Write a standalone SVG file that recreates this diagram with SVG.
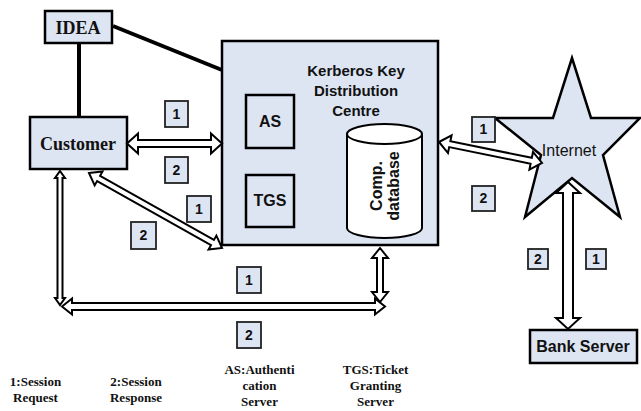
<svg xmlns="http://www.w3.org/2000/svg" width="641" height="411" viewBox="0 0 641 411">
<style>
.box{fill:#dde5f3;stroke:#000;stroke-width:2.5}
.lbl{fill:#dde5f3;stroke:#222;stroke-width:1.8}
.num{font-family:"Liberation Sans",Arial,sans-serif;font-weight:bold;font-size:14px;fill:#111;text-anchor:middle}
.sans{font-family:"Liberation Sans",Arial,sans-serif;font-weight:bold;fill:#111;text-anchor:middle}
.serif{font-family:"Liberation Serif","Times New Roman",serif;font-weight:bold;fill:#111;text-anchor:middle}
.arr{fill:#fff;stroke:#000;stroke-width:2;stroke-linejoin:miter}
.ln{stroke:#000;stroke-width:4;fill:none}
</style>
<rect width="641" height="411" fill="#fff"/>

<g id="kdc">
<rect class="box" x="222" y="41" width="216" height="204"/>
<text class="sans" font-size="15" x="356" y="76">Kerberos Key</text>
<text class="sans" font-size="15" x="356" y="96">Distribution</text>
<text class="sans" font-size="15" x="356" y="116">Centre</text>
</g>
<g id="as">
<rect class="box" x="246" y="95" width="48" height="53" stroke-width="2"/>
<text class="sans" font-size="16" x="270" y="127">AS</text>
</g>
<g id="tgs">
<rect class="box" x="246" y="175" width="48" height="52" stroke-width="2"/>
<text class="sans" font-size="16" x="270" y="206">TGS</text>
</g>
<g id="database">
<path d="M347,134 L347,228 A37.5,10 0 0 0 422,228 L422,134 A37.5,10 0 0 0 347,134 A37.5,10 0 0 0 422,134" fill="#fff" stroke="#000" stroke-width="2"/>
<text class="sans" font-size="16" transform="translate(382,186) rotate(-90)" x="0" y="0">Comp.</text>
<text class="sans" font-size="16" transform="translate(399,186) rotate(-90)" x="0" y="0">database</text>
</g>
<g id="idea">
<rect class="box" x="45" y="11" width="67" height="32" stroke-width="3"/>
<text class="serif" font-size="18" x="78" y="34">IDEA</text>
</g>
<g id="customer">
<rect class="box" x="30" y="117" width="97" height="52" stroke-width="3"/>
<text class="serif" font-size="18" x="78" y="150">Customer</text>
</g>
<g id="internet">
<polygon class="box" stroke-width="2" points="572,58 591,118 640,118 603,155 620,217 572,178 525,217 541,155 495,118 553,118"/>
<text font-family="'Liberation Sans',Arial,sans-serif" font-size="16" fill="#111" text-anchor="middle" x="569" y="156">Internet</text>
</g>
<g id="bank">
<rect class="box" x="530" y="330" width="107" height="33" stroke-width="3"/>
<text class="sans" font-size="16" x="583" y="352">Bank Server</text>
</g>

<g id="connectors">
<line class="ln" x1="79" y1="43" x2="79" y2="117"/>
<line class="ln" x1="113" y1="26" x2="222" y2="70"/>
<polygon class="arr" transform="translate(127,143.5)" points="0,0 11,-10 11,-3.5 84,-3.5 84,-10 95,0 84,10 84,3.5 11,3.5 11,10"/>
<polygon class="arr" transform="translate(89,173) rotate(29.4)" points="0,0 11,-8 11,-3 141.7,-3 141.7,-8 152.7,0 141.7,8 141.7,3 11,3 11,8"/>
<polygon class="arr" transform="translate(60,171) rotate(90)" points="0,0 7,-5 7,-2.5 127,-2.5 127,-5 134,0 127,5 127,2.5 7,2.5 7,5"/>
<polygon class="arr" transform="translate(62,306.5)" points="0,0 10,-8 10,-3.5 313,-3.5 313,-8 323,0 313,8 313,3.5 10,3.5 10,8"/>
<polygon class="arr" transform="translate(380,248) rotate(90)" points="0,0 10,-8 10,-3 44,-3 44,-8 54,0 44,8 44,3 10,3 10,8"/>
<polygon class="arr" transform="translate(439,142) rotate(11.5)" points="0,0 11,-9 11,-3 94.1,-3 94.1,-9 105.1,0 94.1,9 94.1,3 11,3 11,9"/>
<polygon class="arr" transform="translate(568,182) rotate(90)" points="0,0 11,-12 11,-5 136,-5 136,-12 147,0 136,12 136,5 11,5 11,12"/>
</g>

<g id="labels">
<rect class="lbl" x="165" y="101" width="23" height="26"/><text class="num" x="176.5" y="119">1</text>
<rect class="lbl" x="165" y="157" width="23" height="26"/><text class="num" x="176.5" y="175">2</text>
<rect class="lbl" x="187" y="196" width="24" height="26"/><text class="num" x="199" y="214">1</text>
<rect class="lbl" x="131" y="222" width="25" height="27"/><text class="num" x="143.5" y="240">2</text>
<rect class="lbl" x="237" y="267" width="24" height="26"/><text class="num" x="249" y="285">1</text>
<rect class="lbl" x="237" y="322" width="24" height="26"/><text class="num" x="249" y="340">2</text>
<rect class="lbl" x="472" y="117" width="23" height="25"/><text class="num" x="483.5" y="134">1</text>
<rect class="lbl" x="472" y="186" width="23" height="25"/><text class="num" x="483.5" y="203">2</text>
<rect class="lbl" x="528" y="249" width="20" height="20"/><text class="num" x="538" y="264">2</text>
<rect class="lbl" x="586" y="249" width="20" height="20"/><text class="num" x="596" y="264">1</text>
</g>

<g id="legend">
<text class="serif" font-size="13" x="35.5" y="386">1:Session</text>
<text class="serif" font-size="13" x="35.5" y="402">Request</text>
<text class="serif" font-size="13" x="136" y="386">2:Session</text>
<text class="serif" font-size="13" x="136" y="402">Response</text>
<text class="serif" font-size="13" x="259.5" y="374">AS:Authenti</text>
<text class="serif" font-size="13" x="259.5" y="390">cation</text>
<text class="serif" font-size="13" x="259.5" y="406">Server</text>
<text class="serif" font-size="13" x="375.5" y="374">TGS:Ticket</text>
<text class="serif" font-size="13" x="375.5" y="390">Granting</text>
<text class="serif" font-size="13" x="375.5" y="406">Server</text>
</g>
</svg>
